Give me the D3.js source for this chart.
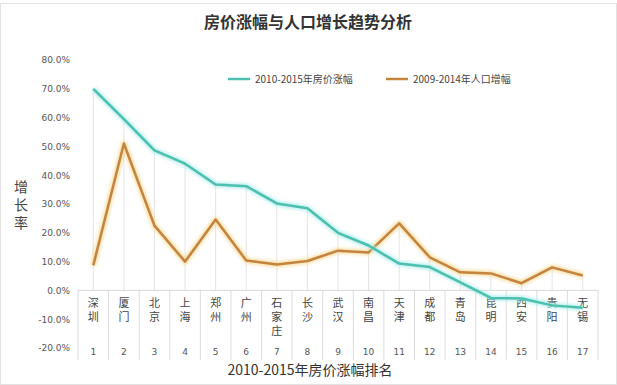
<!DOCTYPE html>
<html>
<head>
<meta charset="utf-8">
<script src="https://cdn.jsdelivr.net/npm/d3@7"></script>
<style>
  body { margin: 0; background: #fff; }
  text { font-family: "Noto Sans CJK SC", "DejaVu Sans", sans-serif; }
</style>
</head>
<body>
<div class="chart"></div>
<script>
var svgWidth = 617;
var svgHeight = 385;

// data
var cities = ["深圳", "厦门", "北京", "上海", "郑州", "广州", "石家庄", "长沙", "武汉",
  "南昌", "天津", "成都", "青岛", "昆明", "西安", "贵阳", "无锡"];
var ranks = ["1", "2", "3", "4", "5", "6", "7", "8", "9", "10", "11", "12", "13", "14", "15", "16", "17"];
var priceGrowth = [70.0, 59.5, 48.6, 44.0, 36.8, 36.2, 30.2, 28.5, 20.0, 15.6, 9.3, 8.1, 2.8, -2.6, -2.8, -5.2, -6.0];
var popGrowth = [8.7, 51.0, 22.5, 10.0, 24.6, 10.4, 9.0, 10.2, 13.8, 13.2, 23.3, 11.5, 6.3, 5.9, 2.5, 8.0, 5.2];
var yTicks = [80, 70, 60, 50, 40, 30, 20, 10, 0, -10, -20];
var seriesNames = ["2010-2015年房价涨幅", "2009-2014年人口增幅"];

var svg = d3.select(".chart")
  .append("svg")
  .attr("width", svgWidth)
  .attr("height", svgHeight);

var defs = svg.append("defs");
var glow = defs.append("filter").attr("id", "glow")
  .attr("x", "-10%").attr("y", "-10%").attr("width", "120%").attr("height", "120%");
glow.append("feGaussianBlur").attr("stdDeviation", 1.6);

// frame
svg.append("rect")
  .attr("x", 0.5).attr("y", 3.5)
  .attr("width", svgWidth - 1).attr("height", svgHeight - 4)
  .attr("fill", "none").attr("stroke", "#e2e2e2");

var x = d3.scaleBand()
  .domain(d3.range(cities.length))
  .range([78, 598]);

var y = d3.scaleLinear()
  .domain([-20, 80])
  .range([348, 60]);

var cx = i => x(i) + x.bandwidth() / 2;

// title
svg.append("text")
  .attr("x", 308).attr("y", 28)
  .attr("text-anchor", "middle")
  .attr("font-size", 16).attr("font-weight", "bold")
  .attr("fill", "#333")
  .text("房价涨幅与人口增长趋势分析");

// y axis labels
var yAxis = svg.append("g")
  .attr("transform", "translate(70,0)")
  .call(d3.axisLeft(y).tickValues(yTicks).tickSize(0).tickPadding(0)
    .tickFormat(d => d.toFixed(1) + "%"));
yAxis.select(".domain").remove();
yAxis.selectAll("text")
  .attr("font-size", 9).attr("fill", "#555")
  .style("font-family", "DejaVu Sans, sans-serif");

// y axis title, written top to bottom
svg.append("text")
  .attr("x", 21).attr("y", 180)
  .style("writing-mode", "vertical-rl")
  .style("letter-spacing", "4px")
  .attr("font-size", 14)
  .attr("fill", "#444")
  .text("增长率");

// drop lines
svg.append("g").selectAll("line")
  .data(cities)
  .enter()
  .append("line")
  .attr("x1", (d, i) => cx(i)).attr("x2", (d, i) => cx(i))
  .attr("y1", (d, i) => y(Math.max(priceGrowth[i], popGrowth[i])))
  .attr("y2", y(0))
  .attr("stroke", "#e4e4e4").attr("stroke-width", 1);

// category table under the axis
var table = svg.append("g");
table.append("line")
  .attr("x1", 78).attr("x2", 598)
  .attr("y1", y(0)).attr("y2", y(0))
  .attr("stroke", "#d8d8d8");
table.selectAll("line.sep")
  .data(d3.range(cities.length + 1))
  .enter()
  .append("line")
  .attr("class", "sep")
  .attr("x1", i => 78 + i * x.step()).attr("x2", i => 78 + i * x.step())
  .attr("y1", y(0)).attr("y2", 360)
  .attr("stroke", "#dcdcdc");

table.selectAll("text.city")
  .data(cities)
  .enter()
  .append("text")
  .attr("class", "city")
  .attr("x", (d, i) => cx(i))
  .attr("y", 297)
  .style("writing-mode", "vertical-rl")
  .style("letter-spacing", "3px")
  .attr("font-size", 11)
  .attr("fill", "#444")
  .text(d => d);

table.selectAll("text.rank")
  .data(ranks)
  .enter()
  .append("text")
  .attr("class", "rank")
  .attr("x", (d, i) => cx(i))
  .attr("y", 355)
  .attr("text-anchor", "middle")
  .attr("font-size", 9)
  .attr("fill", "#555")
  .style("font-family", "DejaVu Sans, sans-serif")
  .text(d => d);

svg.append("text")
  .attr("x", 310).attr("y", 375)
  .attr("text-anchor", "middle")
  .attr("font-size", 14)
  .attr("fill", "#333")
  .text("2010-2015年房价涨幅排名");

// lines
var line = d3.line()
  .x((d, i) => cx(i))
  .y(d => y(d));

function drawSeries(values, glowColor, color) {
  svg.append("path")
    .datum(values)
    .attr("d", line)
    .attr("fill", "none")
    .attr("stroke", glowColor)
    .attr("stroke-width", 6)
    .attr("stroke-linejoin", "round")
    .attr("opacity", 0.7)
    .attr("filter", "url(#glow)");
  svg.append("path")
    .datum(values)
    .attr("d", line)
    .attr("fill", "none")
    .attr("stroke", color)
    .attr("stroke-width", 2.5)
    .attr("stroke-linejoin", "round");
}

drawSeries(popGrowth, "#f7d58a", "#c4843f");
drawSeries(priceGrowth, "#a6ecea", "#4dbfae");

// legend
var legend = svg.append("g");
var legendItems = [
  { x: 228, color: "#4dbfae", glow: "#a6ecea" },
  { x: 386, color: "#c4843f", glow: "#f7d58a" }
];
legendItems.forEach(function (item, i) {
  legend.append("line")
    .attr("x1", item.x).attr("x2", item.x + 22)
    .attr("y1", 79).attr("y2", 79)
    .attr("stroke", item.glow).attr("stroke-width", 5).attr("opacity", 0.7)
    .attr("filter", "url(#glow)");
  legend.append("line")
    .attr("x1", item.x).attr("x2", item.x + 22)
    .attr("y1", 79).attr("y2", 79)
    .attr("stroke", item.color).attr("stroke-width", 2.5);
  legend.append("text")
    .attr("x", item.x + 27).attr("y", 83)
    .attr("font-size", 10)
    .attr("fill", "#444")
    .text(seriesNames[i]);
});
</script>
</body>
</html>
